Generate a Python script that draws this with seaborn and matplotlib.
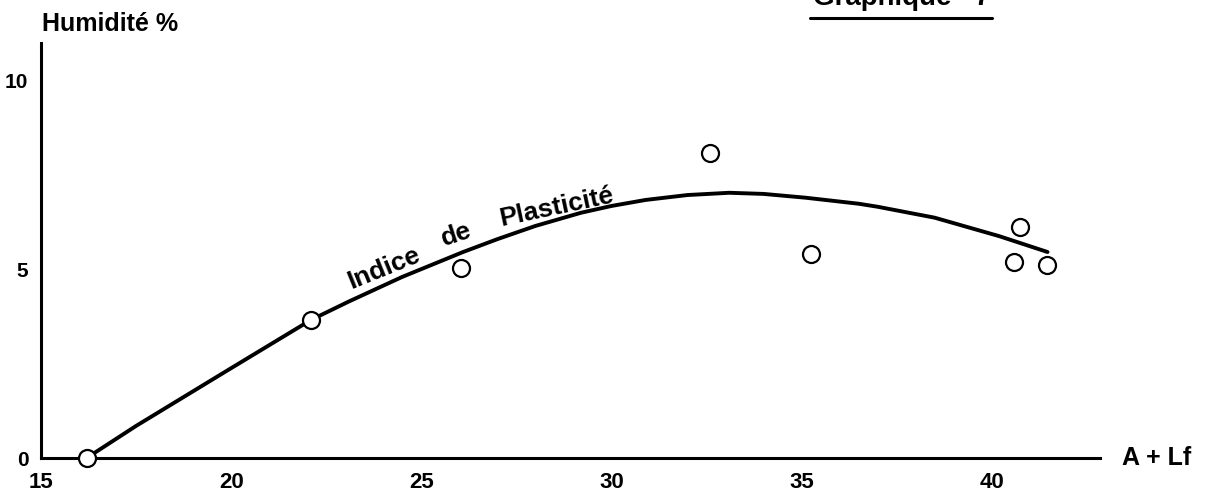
import matplotlib
matplotlib.use("Agg")
import matplotlib.pyplot as plt
import seaborn as sns

# measured points (A + Lf vs humidity)
pts_x = [16.2, 22.1, 26.05, 32.6, 35.25, 40.75, 40.6, 41.45]
pts_y = [0.0, 3.66, 5.04, 8.09, 5.41, 6.13, 5.2, 5.12]

# hand-drawn curve "Indice de Plasticite"
curve_x = [16.2, 17.5, 19.9, 22.1, 23.1, 24.5, 26.1, 27.0, 28.0, 29.2, 30.0,
           30.9, 32.0, 33.1, 34.0, 35.1, 36.5, 37.0, 38.5, 40.2, 41.47]
curve_y = [0.0, 0.85, 2.32, 3.66, 4.15, 4.8, 5.46, 5.8, 6.15, 6.5, 6.68,
           6.84, 6.97, 7.03, 7.0, 6.9, 6.74, 6.66, 6.37, 5.88, 5.46]

x_ticks = [15, 20, 25, 30, 35, 40]
y_ticks = [0, 5, 10]

sns.set_style("white")
plt.rcParams['font.family'] = ['Liberation Sans', 'DejaVu Sans']
plt.rcParams['font.weight'] = 'bold'
plt.rcParams['text.color'] = 'black'
plt.rcParams['xtick.color'] = 'black'
plt.rcParams['ytick.color'] = 'black'

fig = plt.figure(figsize=(12.06, 4.96), dpi=100)
ax = fig.add_axes([41 / 1206, 1 - 458 / 496, (1100 - 41) / 1206, (458 - 43) / 496])

sns.lineplot(x=curve_x, y=curve_y, sort=False, color='black', linewidth=2.8,
             ax=ax, zorder=3, solid_joinstyle='round', solid_capstyle='round')
sns.scatterplot(x=pts_x, y=pts_y, s=150, facecolor='white', edgecolor='black',
                linewidth=1.6, ax=ax, zorder=5, clip_on=False)

ax.set_xlim(15, 42.85)
ax.set_ylim(0, 11.0)
ax.set_xticks(x_ticks)
ax.set_yticks(y_ticks)
ax.set_xticklabels([str(t) for t in x_ticks], fontsize=16, fontweight='bold')
ax.set_yticklabels([str(t) for t in y_ticks], fontsize=15, fontweight='bold')
ax.tick_params(axis='both', direction='in', length=5, width=1.5, color='black')
ax.tick_params(axis='x', pad=10)
ax.tick_params(axis='y', pad=9)

for side in ['top', 'right']:
    ax.spines[side].set_visible(False)
for side in ['left', 'bottom']:
    ax.spines[side].set_color('black')
    ax.spines[side].set_linewidth(2.2)
    ax.spines[side].set_zorder(4)

# axis captions
fig.text(42 / 1206, 1 - 24 / 496, 'Humidité %', fontsize=18, fontweight='bold',
         ha='left', va='center')
ax.text(1.021, 0.0, 'A + Lf', transform=ax.transAxes, fontsize=18,
        fontweight='bold', ha='left', va='center')

# curve label, word by word along the curve
ax.text(24.03, 5.04, 'Indice', fontsize=19, fontweight='bold', rotation=22,
        ha='center', va='center', rotation_mode='anchor')
ax.text(25.92, 5.92, 'de', fontsize=19, fontweight='bold', rotation=18,
        ha='center', va='center', rotation_mode='anchor')
ax.text(28.55, 6.66, 'Plasticité', fontsize=19, fontweight='bold', rotation=12,
        ha='center', va='center', rotation_mode='anchor')

# title, cut off at the top edge of the scan
fig.text(813 / 1206, 1 - 5 / 496, 'Graphique   7', fontsize=20,
         fontweight='bold', ha='left', va='baseline')
fig.add_artist(plt.Line2D([810 / 1206, 992 / 1206], [1 - 18 / 496, 1 - 18 / 496],
                          color='black', linewidth=2.2))

fig.savefig('out.png', dpi=100, facecolor='white')
